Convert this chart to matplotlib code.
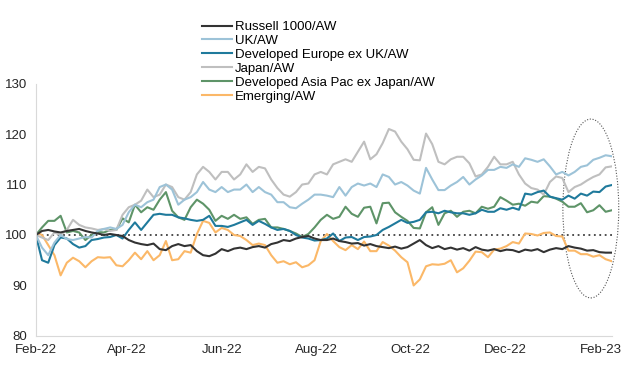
import pandas as pd
import matplotlib
matplotlib.use("Agg")
import matplotlib.pyplot as plt
import matplotlib.dates as mdates
from matplotlib.patches import Ellipse

plt.rcParams['font.family'] = ['Liberation Sans', 'DejaVu Sans']
plt.rcParams['font.size'] = 9.5

# relative performance vs All World, rebased to 100 (read every 4 days from Feb-22)
dates = pd.date_range("2022-02-01", periods=94, freq="4D")

russell = [100.0, 100.8, 101.0, 100.7, 100.5, 100.8, 101.0, 101.2, 100.8, 100.5,
           100.3, 100.0, 100.2, 100.0, 99.8, 99.0, 98.5, 98.2, 98.0, 98.3,
           97.2, 97.0, 97.8, 98.2, 97.8, 98.0, 96.8, 96.0, 95.8, 96.3,
           97.2, 96.8, 97.3, 97.5, 97.2, 97.6, 97.8, 97.5, 98.2, 98.5,
           99.0, 98.8, 99.3, 99.6, 99.8, 99.3, 99.0, 99.0, 99.3, 98.8,
           98.6, 98.3, 98.4, 97.9, 98.2, 97.8, 97.6, 97.4, 97.7, 97.3,
           97.6, 98.3, 99.0, 98.0, 97.4, 97.8, 97.2, 97.5, 97.1, 97.4,
           96.9, 97.6, 97.1, 96.9, 97.2, 96.8, 97.1, 97.0, 96.6, 97.1,
           96.9, 97.2, 96.6, 97.1, 97.4, 97.2, 97.8, 97.5, 97.3, 96.9,
           97.0, 96.6, 96.5, 96.5]

uk = [100.0, 97.5, 96.0, 98.5, 100.0, 99.2, 99.0, 99.3, 99.6, 99.5,
      100.8, 101.2, 101.5, 101.2, 102.0, 104.5, 106.0, 105.5, 106.5, 107.0,
      109.5, 110.0, 109.0, 106.0, 107.0, 107.5, 108.5, 110.5, 109.0, 108.5,
      109.5, 108.5, 109.0, 109.0, 110.0, 108.5, 109.5, 108.5, 108.0, 106.5,
      106.5, 105.5, 105.3, 106.2, 107.0, 108.0, 108.0, 107.8, 107.5, 109.5,
      107.8, 109.5, 110.2, 109.8, 110.2, 109.5, 112.0, 111.5, 110.0, 110.5,
      109.8, 108.8, 108.2, 113.3, 111.0, 108.9, 108.9, 109.8, 110.5, 111.5,
      110.0, 111.0, 111.8, 112.9, 112.9, 113.5, 113.3, 114.0, 113.5, 115.2,
      114.9, 114.5, 115.0, 113.6, 112.0, 112.5, 111.8, 112.5, 113.5, 113.8,
      114.9, 115.3, 115.8, 115.6]

dev_europe = [100.0, 95.0, 94.5, 98.0, 99.5, 99.3, 98.2, 97.5, 97.8, 99.0,
              99.2, 99.5, 99.6, 100.0, 99.3, 101.0, 102.5, 101.0, 102.5, 104.0,
              104.2, 104.0, 104.0, 103.5, 103.3, 103.0, 102.8, 103.0, 103.8, 101.8,
              101.8, 101.6, 102.0, 102.5, 103.0, 102.0, 102.8, 102.2, 101.5, 101.0,
              101.2, 100.8, 100.0, 99.5, 99.3, 98.9, 99.0, 99.3, 100.3, 98.8,
              99.5, 99.6, 99.0, 99.6, 99.7, 100.0, 101.0, 101.6, 102.3, 103.0,
              102.4, 102.6, 103.0, 104.5, 104.6, 104.3, 104.8, 104.5, 104.3, 104.3,
              104.0, 104.3, 105.0, 104.6, 104.6, 105.3, 105.0, 105.4, 105.0, 108.2,
              108.0, 108.5, 108.8, 107.6, 107.3, 107.0, 107.8, 107.2, 108.2, 107.8,
              108.6, 108.5, 109.6, 109.9]

japan = [100.0, 99.5, 99.0, 100.5, 100.0, 101.0, 103.0, 102.0, 101.5, 101.3,
         101.0, 101.2, 100.8, 101.0, 104.0, 105.5, 106.0, 106.8, 109.0, 107.5,
         108.0, 110.0, 109.5, 107.5, 107.0, 108.5, 112.0, 113.5, 112.5, 111.0,
         112.5, 112.5, 111.0, 112.0, 114.0, 112.5, 113.5, 113.2, 111.0, 109.3,
         108.0, 107.6, 108.5, 110.0, 110.2, 112.0, 112.5, 112.0, 114.0, 114.5,
         115.0, 114.5, 116.5, 118.5, 115.0, 116.0, 118.2, 121.0, 120.5, 118.5,
         117.0, 114.9, 114.8, 120.1, 118.0, 114.5, 114.0, 115.0, 115.5, 115.5,
         114.2, 111.6, 112.0, 113.5, 115.5, 114.0, 114.0, 114.5, 112.0, 110.2,
         109.3, 109.0, 108.0, 110.5, 111.6, 111.3, 108.5, 109.5, 110.0, 110.8,
         111.5, 112.0, 113.4, 113.6]

asia_pac = [100.0, 101.5, 102.8, 102.8, 103.8, 100.5, 100.8, 100.5, 99.0, 100.0,
            100.6, 100.5, 101.0, 101.0, 103.3, 102.5, 106.0, 104.5, 105.5, 105.0,
            107.0, 108.5, 104.8, 103.5, 103.0, 105.5, 107.0, 106.2, 105.0, 102.8,
            103.8, 103.2, 104.0, 103.2, 103.5, 102.2, 103.0, 103.2, 101.5, 101.5,
            101.2, 100.8, 100.3, 99.6, 100.2, 101.5, 103.0, 104.0, 103.2, 103.6,
            105.6, 104.2, 103.6, 105.4, 105.6, 102.3, 106.3, 106.4, 104.5, 103.6,
            102.8, 101.4, 101.3, 104.5, 105.5, 102.0, 104.3, 104.8, 103.6, 104.6,
            104.8, 104.3, 105.6, 105.2, 105.6, 107.5, 106.8, 106.0, 106.2, 105.8,
            106.6, 106.4, 107.7, 107.6, 107.2, 106.6, 105.6, 105.6, 106.3, 104.5,
            104.9, 105.9, 104.6, 104.9]

emerging = [100.5, 100.0, 98.0, 96.0, 92.0, 94.5, 95.5, 94.8, 93.6, 94.8,
            95.6, 95.5, 95.6, 94.0, 93.8, 95.0, 96.5, 95.2, 96.8, 95.0,
            96.0, 98.8, 95.0, 95.2, 96.8, 96.5, 100.2, 102.8, 102.4, 100.5,
            101.4, 101.0, 100.0, 99.8, 99.0, 98.0, 98.3, 98.0, 96.0, 94.5,
            94.8, 94.2, 94.6, 93.6, 94.0, 95.0, 98.8, 100.2, 98.8, 97.6,
            97.0, 98.0, 97.2, 98.7, 96.8, 96.8, 98.6, 97.9, 96.9, 95.6,
            94.6, 90.0, 91.2, 93.8, 94.2, 94.1, 94.3, 95.0, 92.6, 93.4,
            94.9, 96.7, 96.6, 95.6, 97.1, 97.3, 97.8, 98.6, 98.3, 100.3,
            100.2, 99.9, 100.4, 100.5, 99.8, 99.7, 96.9, 96.9, 96.2, 96.2,
            95.7, 96.0, 95.2, 94.8]

series = [
    ("Russell 1000/AW", russell, "#333333"),
    ("UK/AW", uk, "#9dc3d8"),
    ("Developed Europe ex UK/AW", dev_europe, "#1f7a9c"),
    ("Japan/AW", japan, "#bfbfbf"),
    ("Developed Asia Pac ex Japan/AW", asia_pac, "#5e9468"),
    ("Emerging/AW", emerging, "#fbb868"),
]

fig = plt.figure(figsize=(6.4, 3.8), dpi=100)
ax = fig.add_axes([0.056, 0.116, 0.900, 0.664])

# draw in reverse so Russell sits on top
handles = {}
for name, vals, col in reversed(series):
    ln, = ax.plot(dates, vals, color=col, lw=1.5, label=name)
    handles[name] = ln

ax.axhline(100, color="#404040", lw=1.3, ls=(0, (1, 2)), zorder=0.5)

ax.set_ylim(80, 130)
ax.set_yticks(range(80, 131, 10))
ax.set_xlim(pd.Timestamp("2022-02-01"), dates[-1])
ax.xaxis.set_major_locator(mdates.MonthLocator(bymonth=[2, 4, 6, 8, 10, 12]))
ax.xaxis.set_major_formatter(mdates.DateFormatter("%b-%y"))
ax.tick_params(length=0, labelsize=9.5, colors="#262626", pad=6)
for s in ["top", "right"]:
    ax.spines[s].set_visible(False)
for s in ["left", "bottom"]:
    ax.spines[s].set_color("#d9d9d9")

# highlight the latest period
ell = Ellipse((0.9635, 0.505), 0.097, 0.709, transform=ax.transAxes,
              fill=False, ls=(0, (1, 1.5)), lw=0.8, edgecolor="#555555", clip_on=False)
ax.add_patch(ell)

fig.legend([handles[n] for n, _, _ in series], [n for n, _, _ in series],
           loc="upper left", bbox_to_anchor=(0.315, 0.945), frameon=False,
           fontsize=9.5, labelspacing=0.13, handlelength=2.3, handletextpad=0.2,
           borderpad=0, borderaxespad=0)

fig.savefig("out.png", dpi=100)
